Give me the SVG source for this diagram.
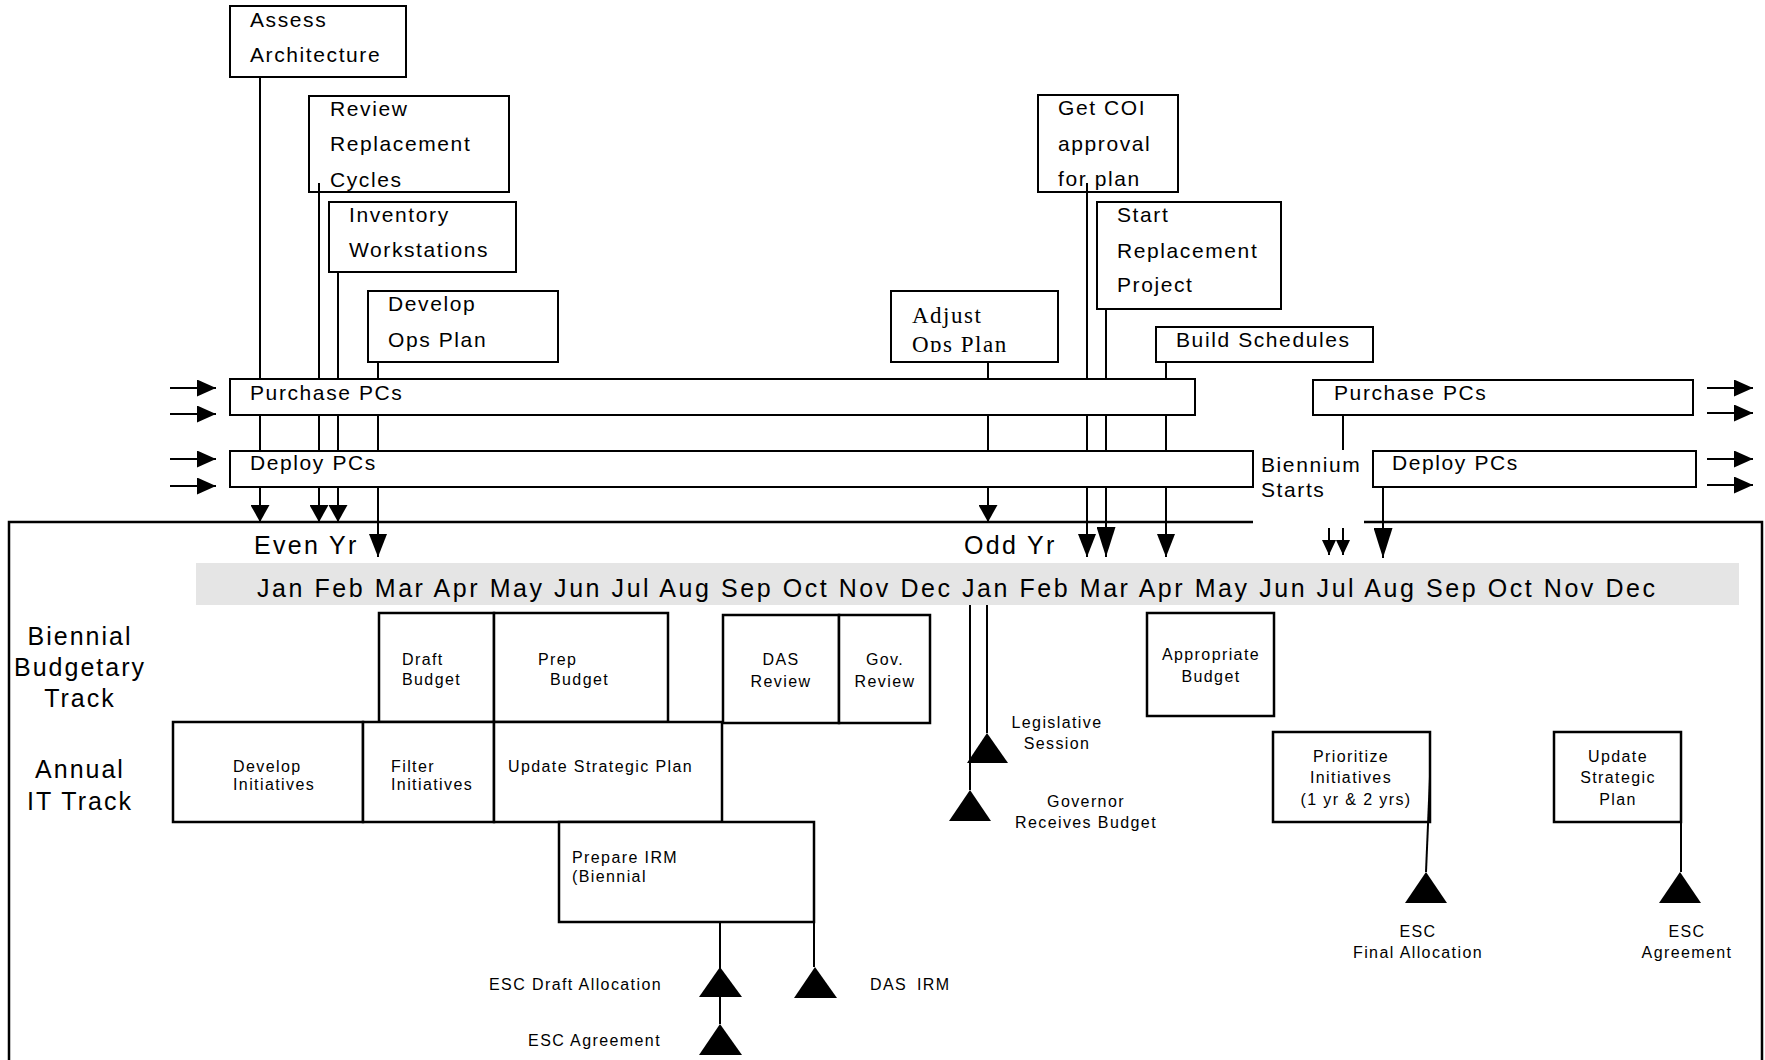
<svg xmlns="http://www.w3.org/2000/svg" width="1765" height="1060" viewBox="0 0 1765 1060">
<style>
text{font-family:"Liberation Sans",Arial,sans-serif;fill:#000}
.t21{font-size:21px;letter-spacing:1.6px}
.t25{font-size:25px;letter-spacing:2.3px}
.t16{font-size:16px;letter-spacing:1.4px}
.mid{text-anchor:middle}
.box{fill:#fff;stroke:#000;stroke-width:2}
.lbox{fill:#fff;stroke:#000;stroke-width:2.5}
.ln{fill:none;stroke:#000;stroke-width:2}
.tri{fill:#000}
</style>
<defs>
<marker id="aS" viewBox="0 0 17 19" refX="17" refY="9.5" markerWidth="17" markerHeight="19" markerUnits="userSpaceOnUse" orient="auto"><path d="M0,0 L17,9.5 L0,19 Z"/></marker>
<marker id="aM" viewBox="0 0 23 18" refX="23" refY="9" markerWidth="23" markerHeight="18" markerUnits="userSpaceOnUse" orient="auto"><path d="M0,0 L23,9 L0,18 Z"/></marker>
<marker id="aL" viewBox="0 0 30 19" refX="30" refY="9.5" markerWidth="30" markerHeight="19" markerUnits="userSpaceOnUse" orient="auto"><path d="M0,0 L30,9.5 L0,19 Z"/></marker>
<marker id="aJ" viewBox="0 0 15 14" refX="15" refY="7" markerWidth="15" markerHeight="14" markerUnits="userSpaceOnUse" orient="auto"><path d="M0,0 L15,7 L0,14 Z"/></marker>
<marker id="aH" viewBox="0 0 19 17" refX="19" refY="8.5" markerWidth="19" markerHeight="17" markerUnits="userSpaceOnUse" orient="auto"><path d="M0,0 L19,8.5 L0,17 Z"/></marker>
<clipPath id="clipAdj"><rect x="891" y="291" width="167" height="61"/></clipPath>
</defs>
<rect width="1765" height="1060" fill="#fff"/>

<!-- frame -->
<g id="frame"><path d="M9,1060 V522 H1253 M1364,522 H1762 V1060" fill="none" stroke="#000" stroke-width="2.5"/></g>

<!-- top activity boxes -->
<g id="assess"><rect class="box" x="230" y="6" width="176" height="71"/><text class="t21" x="250" y="27">Assess</text><text class="t21" x="250" y="62">Architecture</text></g>
<g id="review"><rect class="box" x="309" y="96" width="200" height="96"/><text class="t21" x="330" y="116">Review</text><text class="t21" x="330" y="151">Replacement</text><text class="t21" x="330" y="187">Cycles</text></g>
<g id="inventory"><rect class="box" x="329" y="202" width="187" height="70"/><text class="t21" x="349" y="222">Inventory</text><text class="t21" x="349" y="257">Workstations</text></g>
<g id="develop-ops"><rect class="box" x="368" y="291" width="190" height="71"/><text class="t21" x="388" y="311">Develop</text><text class="t21" x="388" y="347">Ops Plan</text></g>
<g id="adjust-ops"><rect class="box" x="891" y="291" width="167" height="71"/><g clip-path="url(#clipAdj)" style="font-family:'Liberation Serif','Times New Roman',serif;font-size:23px;letter-spacing:1.5px"><text x="912" y="323" style="font-family:'Liberation Serif','Times New Roman',serif">Adjust</text><text x="912" y="352" style="font-family:'Liberation Serif','Times New Roman',serif">Ops Plan</text></g></g>
<g id="get-coi"><rect class="box" x="1038" y="95" width="140" height="97"/><text class="t21" x="1058" y="115">Get COI</text><text class="t21" x="1058" y="151">approval</text><text class="t21" x="1058" y="186">for plan</text></g>
<g id="start-project"><rect class="box" x="1097" y="202" width="184" height="107"/><text class="t21" x="1117" y="222">Start</text><text class="t21" x="1117" y="258">Replacement</text><text class="t21" x="1117" y="292">Project</text></g>
<g id="build-schedules"><rect class="box" x="1156" y="327" width="217" height="35"/><text class="t21" x="1176" y="347">Build Schedules</text></g>

<!-- bars -->
<g id="purchase-left"><rect class="box" x="230" y="379" width="965" height="36"/><text class="t21" x="250" y="400">Purchase PCs</text></g>
<g id="deploy-left"><rect class="box" x="230" y="451" width="1023" height="36"/><text class="t21" x="250" y="470">Deploy PCs</text></g>
<g id="purchase-right"><rect class="box" x="1313" y="380" width="380" height="35"/><text class="t21" x="1334" y="400">Purchase PCs</text></g>
<g id="deploy-right"><rect class="box" x="1373" y="451" width="323" height="36"/><text class="t21" x="1392" y="470">Deploy PCs</text></g>
<g id="biennium"><text class="t21" x="1261" y="472">Biennium</text><text class="t21" x="1261" y="497">Starts</text></g>

<!-- year labels and months -->
<g id="even-yr"><text class="t25" x="254" y="554">Even Yr</text></g>
<g id="odd-yr"><text class="t25" x="964" y="554">Odd Yr</text></g>
<g id="months"><rect x="196" y="563" width="1543" height="42" fill="#e5e5e5"/><text x="257" y="597" style="font-size:25px" textLength="1398" lengthAdjust="spacing">Jan Feb Mar Apr May Jun Jul Aug Sep Oct Nov Dec Jan Feb Mar Apr May Jun Jul Aug Sep Oct Nov Dec</text></g>

<!-- track labels -->
<g id="biennial-track"><text class="t25 mid" x="80" y="645" style="letter-spacing:2px">Biennial</text><text class="t25 mid" x="80" y="676" style="letter-spacing:2px">Budgetary</text><text class="t25 mid" x="80" y="707" style="letter-spacing:2px">Track</text></g>
<g id="annual-track"><text class="t25 mid" x="80" y="778" style="letter-spacing:2px">Annual</text><text class="t25 mid" x="80" y="810" style="letter-spacing:2px">IT Track</text></g>

<!-- lower boxes -->
<g id="draft-budget"><rect class="lbox" x="379" y="613" width="115" height="109"/><text class="t16" x="402" y="665">Draft</text><text class="t16" x="402" y="685">Budget</text></g>
<g id="prep-budget"><rect class="lbox" x="494" y="613" width="174" height="109"/><text class="t16" x="538" y="665">Prep</text><text class="t16" x="550" y="685">Budget</text></g>
<g id="das-review"><rect class="lbox" x="723" y="615" width="116" height="108"/><text class="t16 mid" x="781" y="665">DAS</text><text class="t16 mid" x="781" y="687">Review</text></g>
<g id="gov-review"><rect class="lbox" x="839" y="615" width="91" height="108"/><text class="t16 mid" x="885" y="665">Gov.</text><text class="t16 mid" x="885" y="687">Review</text></g>
<g id="develop-initiatives"><rect class="lbox" x="173" y="722" width="190" height="100"/><text class="t16" x="233" y="772">Develop</text><text class="t16" x="233" y="790">Initiatives</text></g>
<g id="filter-initiatives"><rect class="lbox" x="363" y="722" width="131" height="100"/><text class="t16" x="391" y="772">Filter</text><text class="t16" x="391" y="790">Initiatives</text></g>
<g id="update-plan-1"><rect class="lbox" x="494" y="722" width="228" height="100"/><text class="t16" x="508" y="772">Update Strategic Plan</text></g>
<g id="prepare-irm"><rect class="lbox" x="559" y="822" width="255" height="100"/><text class="t16" x="572" y="863">Prepare IRM</text><text class="t16" x="572" y="882">(Biennial</text></g>
<g id="appropriate-budget"><rect class="lbox" x="1147" y="613" width="127" height="103"/><text class="t16 mid" x="1211" y="660">Appropriate</text><text class="t16 mid" x="1211" y="682">Budget</text></g>
<g id="prioritize"><rect class="lbox" x="1273" y="732" width="157" height="90"/><text class="t16 mid" x="1351" y="762">Prioritize</text><text class="t16 mid" x="1351" y="783">Initiatives</text><text class="t16 mid" x="1356" y="805">(1 yr &amp; 2 yrs)</text></g>
<g id="update-plan-2"><rect class="lbox" x="1554" y="732" width="127" height="90"/><text class="t16 mid" x="1618" y="762">Update</text><text class="t16 mid" x="1618" y="783">Strategic</text><text class="t16 mid" x="1618" y="805">Plan</text></g>

<!-- milestones -->
<g id="ms-legislative"><path class="tri" d="M987,733 L1008,763 L967,763 Z"/><text class="t16 mid" x="1057" y="728">Legislative</text><text class="t16 mid" x="1057" y="749">Session</text></g>
<g id="ms-governor"><path class="tri" d="M970,790 L991,821 L949,821 Z"/><text class="t16 mid" x="1086" y="807">Governor</text><text class="t16 mid" x="1086" y="828">Receives Budget</text></g>
<g id="ms-esc-draft"><path class="tri" d="M720,967 L742,997 L699,997 Z"/><text class="t16" x="662" y="990" text-anchor="end">ESC Draft Allocation</text></g>
<g id="ms-esc-agreement-1"><path class="tri" d="M720,1024 L742,1055 L699,1055 Z"/><text class="t16" x="661" y="1046" text-anchor="end">ESC Agreement</text></g>
<g id="ms-das-irm"><path class="tri" d="M815,967 L837,998 L794,998 Z"/><text class="t16" x="870" y="990" style="word-spacing:4px">DAS IRM</text></g>
<g id="ms-esc-final"><path class="tri" d="M1426,872 L1447,903 L1405,903 Z"/><text class="t16 mid" x="1418" y="937">ESC</text><text class="t16 mid" x="1418" y="958">Final Allocation</text></g>
<g id="ms-esc-agreement-2"><path class="tri" d="M1680,872 L1701,903 L1659,903 Z"/><text class="t16 mid" x="1687" y="937">ESC</text><text class="t16 mid" x="1687" y="958">Agreement</text></g>

<!-- connectors -->
<g id="connectors" class="ln" fill="none" stroke="#000" stroke-width="2">
<path class="ln" d="M260,77 V379 M260,415 V451"/><path class="ln" d="M260,487 V522" marker-end="url(#aS)"/>
<path class="ln" d="M319,183 V379 M319,415 V451"/><path class="ln" d="M319,487 V522" marker-end="url(#aS)"/>
<path class="ln" d="M338,272 V379 M338,415 V451"/><path class="ln" d="M338,487 V522" marker-end="url(#aS)"/>
<path class="ln" d="M378,362 V379 M378,415 V451"/><path class="ln" d="M378,487 V557" marker-end="url(#aM)"/>
<path class="ln" d="M988,362 V379 M988,415 V451"/><path class="ln" d="M988,487 V522" marker-end="url(#aS)"/>
<path class="ln" d="M1087,183 V379 M1087,415 V451"/><path class="ln" d="M1087,487 V557" marker-end="url(#aM)"/>
<path class="ln" d="M1106,309 V379 M1106,415 V451"/><path class="ln" d="M1106,487 V557" marker-end="url(#aL)"/>
<path class="ln" d="M1166,362 V379 M1166,415 V451"/><path class="ln" d="M1166,487 V557" marker-end="url(#aM)"/>
<path class="ln" d="M1343,415 V450"/>
<path class="ln" d="M1329,528 V555" marker-end="url(#aJ)"/>
<path class="ln" d="M1343,528 V555" marker-end="url(#aJ)"/>
<path class="ln" d="M1383,487 V558" marker-end="url(#aL)"/>
<path class="ln" d="M170,388 H216" marker-end="url(#aH)"/>
<path class="ln" d="M170,414 H216" marker-end="url(#aH)"/>
<path class="ln" d="M170,459 H216" marker-end="url(#aH)"/>
<path class="ln" d="M170,486 H216" marker-end="url(#aH)"/>
<path class="ln" d="M1707,388 H1753" marker-end="url(#aH)"/>
<path class="ln" d="M1707,413 H1753" marker-end="url(#aH)"/>
<path class="ln" d="M1707,459 H1753" marker-end="url(#aH)"/>
<path class="ln" d="M1707,485 H1753" marker-end="url(#aH)"/>
<path class="ln" d="M970,605 V790"/>
<path class="ln" d="M987,605 V733"/>
<path class="ln" d="M720,922 V1024"/>
<path class="ln" d="M814,922 V967"/>
<path class="ln" d="M1430,777 L1426,872"/>
<path class="ln" d="M1681,822 V872"/>
</g>
</svg>
